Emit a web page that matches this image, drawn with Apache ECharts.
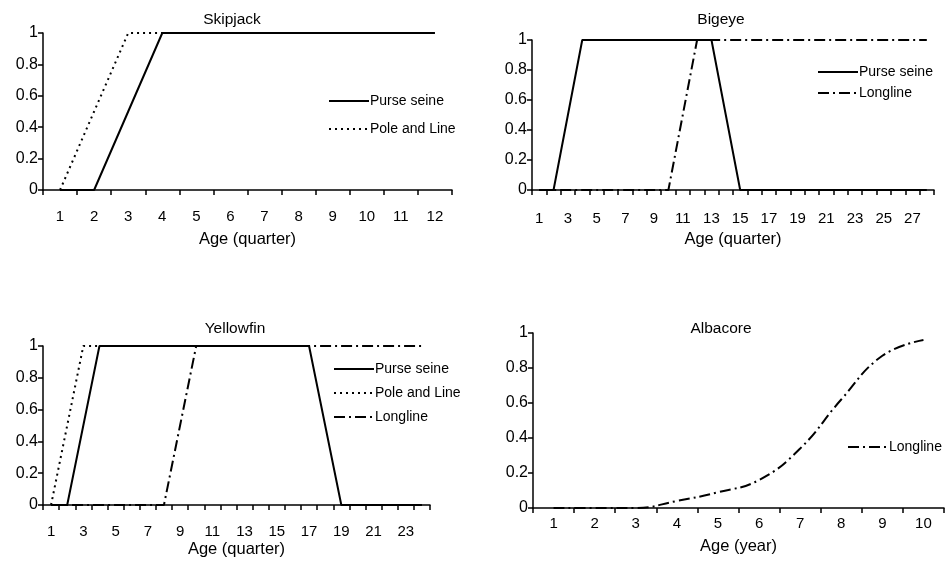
<!DOCTYPE html>
<html><head><meta charset="utf-8">
<script src="https://cdn.jsdelivr.net/npm/echarts@6/dist/echarts.min.js"></script>
<style>html,body{margin:0;padding:0;background:#fff}#c{width:948px;height:561px}</style>
</head><body><div id="c"></div>
<script>
// Categories
var skjAges = ['1','2','3','4','5','6','7','8','9','10','11','12'];
var betAges = []; for (var i = 1; i <= 28; i++) betAges.push(String(i));
var yftAges = []; for (var j = 1; j <= 24; j++) yftAges.push(String(j));
var albAges = ['1','2','3','4','5','6','7','8','9','10'];

// Series values
var skjPurse = [0,0,0.5,1,1,1,1,1,1,1,1,1];
var skjPole  = [0,0.5,1,1,1,1,1,1,1,1,1,1];
var betPurse = [0,0,0.5,1,1,1,1,1,1,1,1,1,1,0.5,0,0,0,0,0,0,0,0,0,0,0,0,0,0];
var betLong  = [0,0,0,0,0,0,0,0,0,0,0.5,1,1,1,1,1,1,1,1,1,1,1,1,1,1,1,1,1];
var yftPurse = [0,0,0.5,1,1,1,1,1,1,1,1,1,1,1,1,1,1,0.5,0,0,0,0,0,0];
var yftPole  = [0,0.5,1,1,1,1,1,1,1,1,1,1,1,1,1,1,1,null,null,null,null,null,null,null];
var yftLong  = [0,0,0,0,0,0,0,0,0.5,1,1,1,1,1,1,1,1,1,1,1,1,1,1,1];
var albLong  = [0,0,0,0.04,0.09,0.16,0.34,0.62,0.87,0.96];

var yTicks = [0,0.2,0.4,0.6,0.8,1];

var FONT = 'Liberation Sans';
var solid = {color:'#000', width:2, type:'solid'};
var dotted = {color:'#000', width:2, type:[2,4]};
var dashdot = {color:'#000', width:2, type:[11,4,2,4]};

function xAx(gi, cats, name, interval, margin, nameGap) {
  return {
    type:'category', gridIndex:gi, data:cats, boundaryGap:true,
    name:name, nameLocation:'middle', nameGap:nameGap,
    nameTextStyle:{fontFamily:FONT, fontSize:16.5, color:'#000'},
    axisLine:{lineStyle:{color:'#000', width:1.5}},
    axisTick:{show:true, interval:0, length:5, lineStyle:{color:'#000', width:1.5}},
    axisLabel:{interval:interval, margin:margin, fontFamily:FONT, fontSize:15, color:'#000'},
    splitLine:{show:false}
  };
}
function yAx(gi) {
  return {
    type:'value', gridIndex:gi, min:yTicks[0], max:yTicks[yTicks.length-1], interval:0.2,
    axisLine:{show:true, lineStyle:{color:'#000', width:1.5}},
    axisTick:{show:true, length:5, lineStyle:{color:'#000', width:1.5}},
    axisLabel:{margin:5, fontFamily:FONT, fontSize:16, color:'#000'},
    splitLine:{show:false}
  };
}
function ser(name, gi, data, ls, smooth) {
  return {
    type:'line', name:name, xAxisIndex:gi, yAxisIndex:gi, data:data,
    showSymbol:false, symbol:'none', lineStyle:ls, itemStyle:{color:'#000'},
    smooth: smooth || false, connectNulls:false,
    animation:false, silent:true
  };
}
function leg(names, left, top, gap) {
  return {
    data:names, orient:'vertical', left:left, top:top, itemGap:gap, padding:0,
    itemWidth:40, itemHeight:14, selectedMode:false,
    itemStyle:{opacity:0},
    textStyle:{fontFamily:FONT, fontSize:14, color:'#000', padding:[0,0,0,-4]}
  };
}
function ttl(text, x, y) {
  return {text:text, left:x, top:y, textAlign:'center', padding:0,
    textStyle:{fontFamily:FONT, fontSize:15.5, fontWeight:'normal', color:'#000'}};
}

var chart = echarts.init(document.getElementById('c'), null, {renderer:'canvas'});
chart.setOption({
  backgroundColor:'#fff',
  animation:false,
  title:[ttl('Skipjack',232,12), ttl('Bigeye',721,12), ttl('Yellowfin',235,321), ttl('Albacore',721,321)],
  grid:[
    {left:43, top:33, width:409, height:157},
    {left:532, top:40, width:402, height:150},
    {left:43, top:346, width:387, height:159},
    {left:533, top:333, width:411, height:175}
  ],
  xAxis:[
    xAx(0, skjAges, 'Age (quarter)', 0, 19, 41),
    xAx(1, betAges, 'Age (quarter)', 1, 21, 41),
    xAx(2, yftAges, 'Age (quarter)', 1, 19, 36),
    xAx(3, albAges, 'Age (year)', 0, 8, 30)
  ],
  yAxis:[yAx(0), yAx(1), yAx(2), yAx(3)],
  legend:[
    leg(['Purse seine','Pole and Line'], 328, 94, 14),
    leg(['Purse seine','Longline'], 817, 65, 7),
    leg(['Purse seine','Pole and Line','Longline'], 333, 362, 10),
    leg(['Longline'], 847, 440, 10)
  ],
  series:[
    ser('Pole and Line', 0, skjPole, dotted),
    ser('Purse seine', 0, skjPurse, solid),
    ser('Longline', 1, betLong, dashdot),
    ser('Purse seine', 1, betPurse, solid),
    ser('Pole and Line', 2, yftPole, dotted),
    ser('Longline', 2, yftLong, dashdot),
    ser('Purse seine', 2, yftPurse, solid),
    ser('Longline', 3, albLong, dashdot, 0.45)
  ]
});
</script></body></html>
